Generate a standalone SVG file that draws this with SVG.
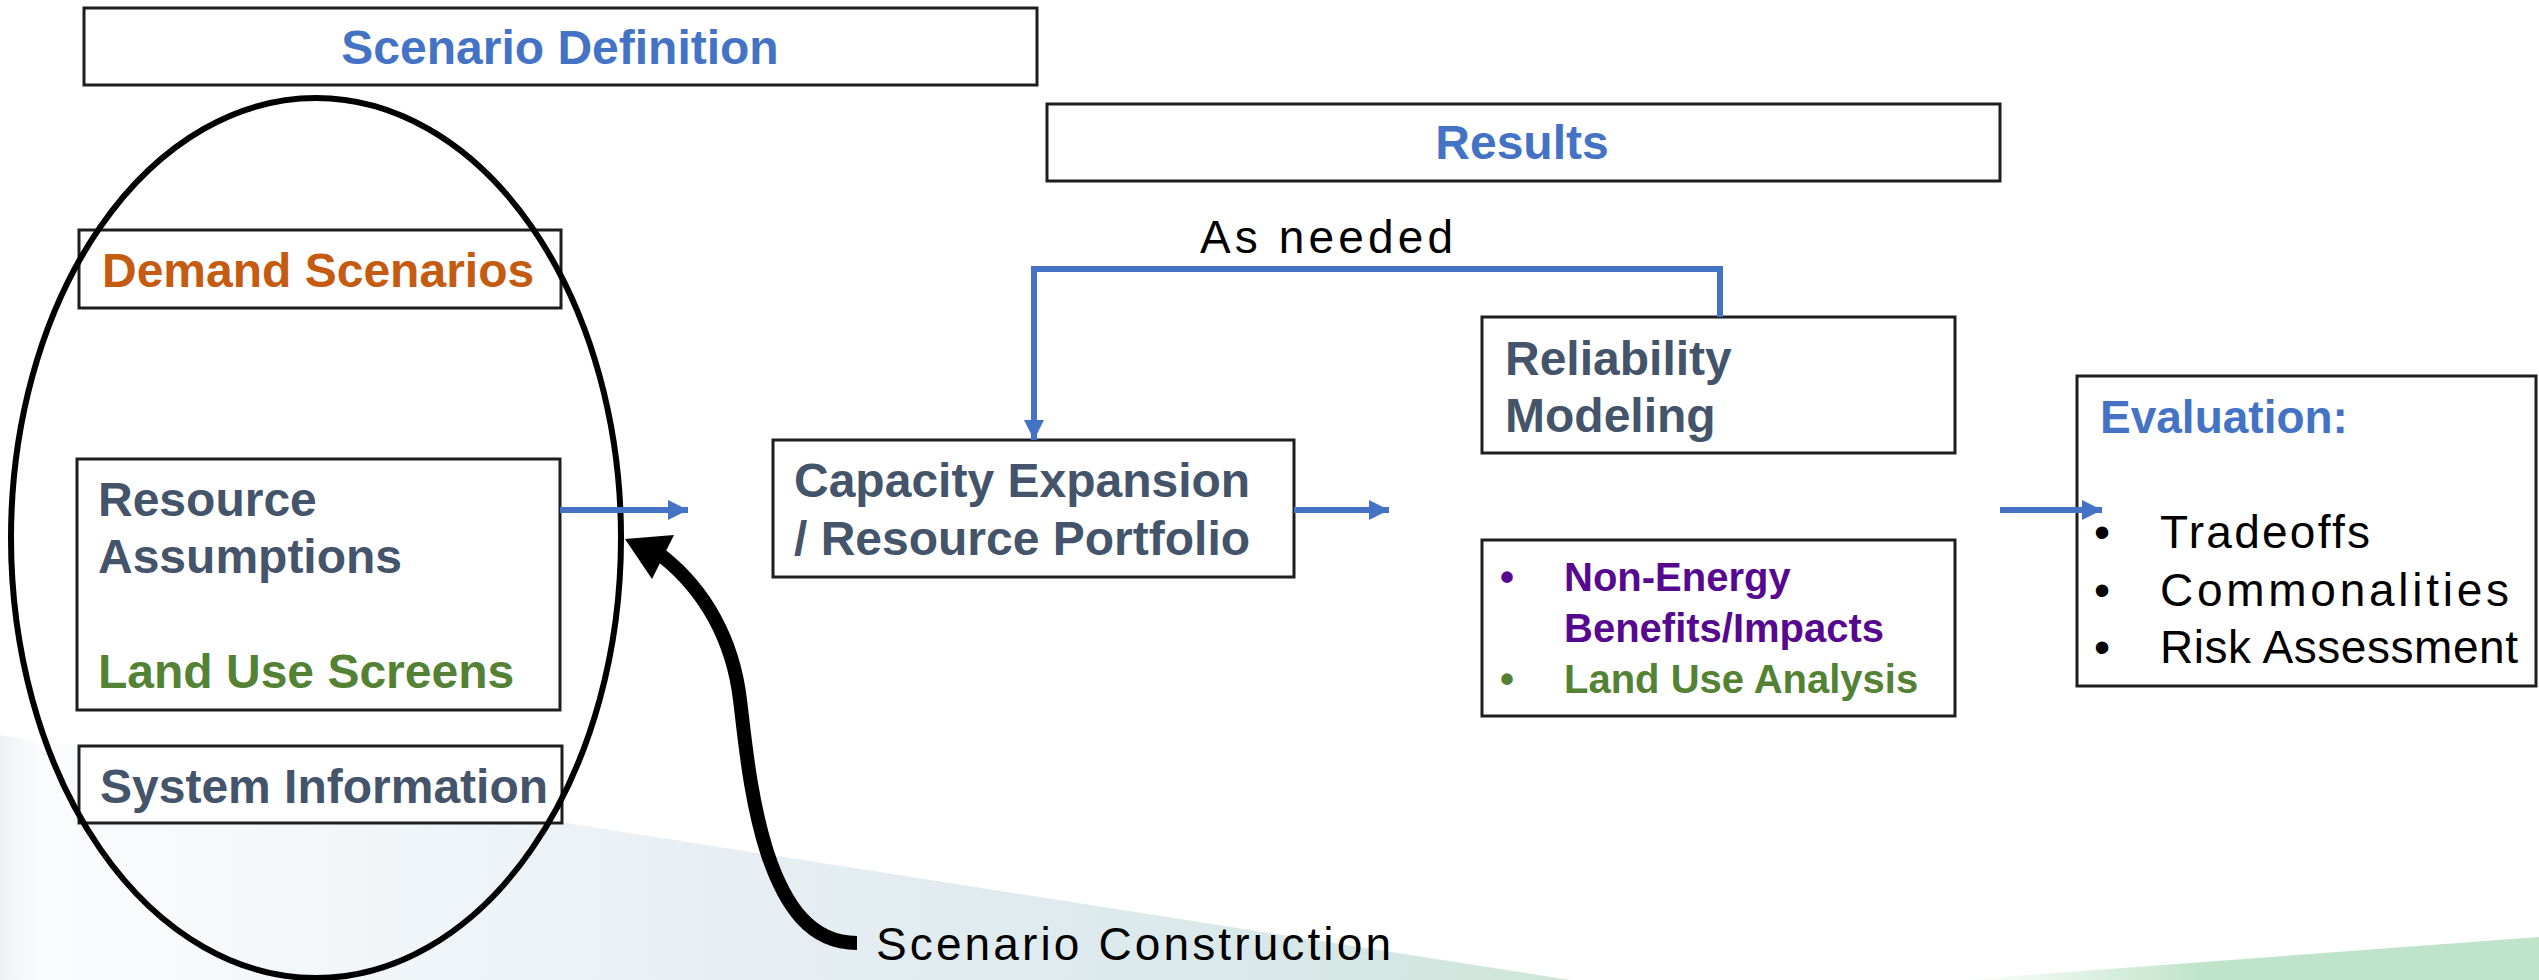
<svg xmlns="http://www.w3.org/2000/svg" width="2539" height="980" viewBox="0 0 2539 980">
<style>
.box{fill:#fff;stroke:#1e1e1e;stroke-width:3}
.b{font-family:"Liberation Sans",Arial,sans-serif;font-weight:bold;font-size:48px}
.r{font-family:"Liberation Sans",Arial,sans-serif;font-size:46px;fill:#000}
.blue{fill:#4472C4}
.dark{fill:#44546A}
.orange{fill:#C55A11}
.green{fill:#548235}
.purple{fill:#56098F}
.conn{fill:none;stroke:#4472C4;stroke-width:6}
</style>
<defs>
<linearGradient id="bgA" x1="0" y1="0" x2="1570" y2="0" gradientUnits="userSpaceOnUse">
<stop offset="0" stop-color="#eef1f4"/>
<stop offset="0.025" stop-color="#fbfcfd"/>
<stop offset="0.45" stop-color="#e8eff4"/>
<stop offset="0.8" stop-color="#d9e8ea"/>
<stop offset="1" stop-color="#cde6d8"/>
</linearGradient>
<linearGradient id="bgB" x1="1960" y1="0" x2="2200" y2="0" gradientUnits="userSpaceOnUse">
<stop offset="0" stop-color="#ffffff"/>
<stop offset="1" stop-color="#c0e4cb"/>
</linearGradient>
<marker id="ah" viewBox="0 0 20 20" refX="20" refY="10" markerWidth="20" markerHeight="20" markerUnits="userSpaceOnUse" orient="auto">
<path d="M0,0 L20,10 L0,20 z" fill="#4472C4"/>
</marker>
</defs>
<rect width="2539" height="980" fill="#fff"/>
<g id="background">
<polygon points="0,735 560,822 1570,980 0,980" fill="url(#bgA)"/>
<polygon points="1960,980 2539,937 2539,980" fill="url(#bgB)"/>
</g>
<g id="scenario-definition">
<rect class="box" x="84" y="8" width="953" height="77"/>
<text class="b blue" x="560" y="64" text-anchor="middle">Scenario Definition</text>
</g>
<g id="results">
<rect class="box" x="1047" y="104" width="953" height="77"/>
<text class="b blue" x="1522" y="159" text-anchor="middle">Results</text>
</g>
<g id="demand-scenarios">
<rect class="box" x="79" y="230" width="482" height="78"/>
<text class="b orange" x="102" y="287">Demand Scenarios</text>
</g>
<g id="resource-assumptions">
<rect class="box" x="77" y="459" width="483" height="251"/>
<text class="b dark" x="98" y="516">Resource</text>
<text class="b dark" x="98" y="573">Assumptions</text>
<text class="b green" x="98" y="688">Land Use Screens</text>
</g>
<g id="system-information">
<rect class="box" x="79" y="746" width="483" height="77"/>
<text class="b dark" x="100" y="803">System Information</text>
</g>
<g id="scenario-ellipse">
<ellipse cx="316" cy="538" rx="305" ry="440" fill="none" stroke="#000" stroke-width="6"/>
</g>
<g id="capacity-expansion">
<rect class="box" x="773" y="440" width="521" height="137"/>
<text class="b dark" x="794" y="497">Capacity Expansion</text>
<text class="b dark" x="794" y="555">/ Resource Portfolio</text>
</g>
<g id="reliability-modeling">
<rect class="box" x="1482" y="317" width="473" height="136"/>
<text class="b dark" x="1505" y="375">Reliability</text>
<text class="b dark" x="1505" y="432">Modeling</text>
</g>
<g id="non-energy">
<rect class="box" x="1482" y="540" width="473" height="176"/>
<text class="b purple" x="1500" y="591" style="font-size:40px">•</text>
<text class="b purple" x="1564" y="591" style="font-size:40px">Non-Energy</text>
<text class="b purple" x="1564" y="642" style="font-size:40px">Benefits/Impacts</text>
<text class="b green" x="1500" y="693" style="font-size:40px">•</text>
<text class="b green" x="1564" y="693" style="font-size:40px">Land Use Analysis</text>
</g>
<g id="evaluation">
<rect class="box" x="2077" y="376" width="459" height="310"/>
<text class="b blue" x="2100" y="433" style="font-size:46px">Evaluation:</text>
<text class="r" x="2094" y="548">•</text>
<text class="r" x="2160" y="548" textLength="210" lengthAdjust="spacing">Tradeoffs</text>
<text class="r" x="2094" y="606">•</text>
<text class="r" x="2160" y="606" textLength="349" lengthAdjust="spacing">Commonalities</text>
<text class="r" x="2094" y="663">•</text>
<text class="r" x="2160" y="663" textLength="358" lengthAdjust="spacing">Risk Assessment</text>
</g>
<g id="connectors">
<path class="conn" d="M560,510 H688" marker-end="url(#ah)"/>
<path class="conn" d="M1294,510 H1389" marker-end="url(#ah)"/>
<path class="conn" d="M2000,510 H2102" marker-end="url(#ah)"/>
<path class="conn" d="M1720,317 V269 H1034 V440" marker-end="url(#ah)"/>
<text class="r" x="1200" y="253" textLength="253" lengthAdjust="spacing">As needed</text>
<path d="M857,943 C810,943 785,905 768,855 C750,800 745,740 740,700 C733,640 705,590 662,556" fill="none" stroke="#000" stroke-width="14"/>
<polygon points="625,539 674,535 652,579" fill="#000"/>
<text class="r" x="876" y="960" textLength="515" lengthAdjust="spacing">Scenario Construction</text>
</g>
</svg>
